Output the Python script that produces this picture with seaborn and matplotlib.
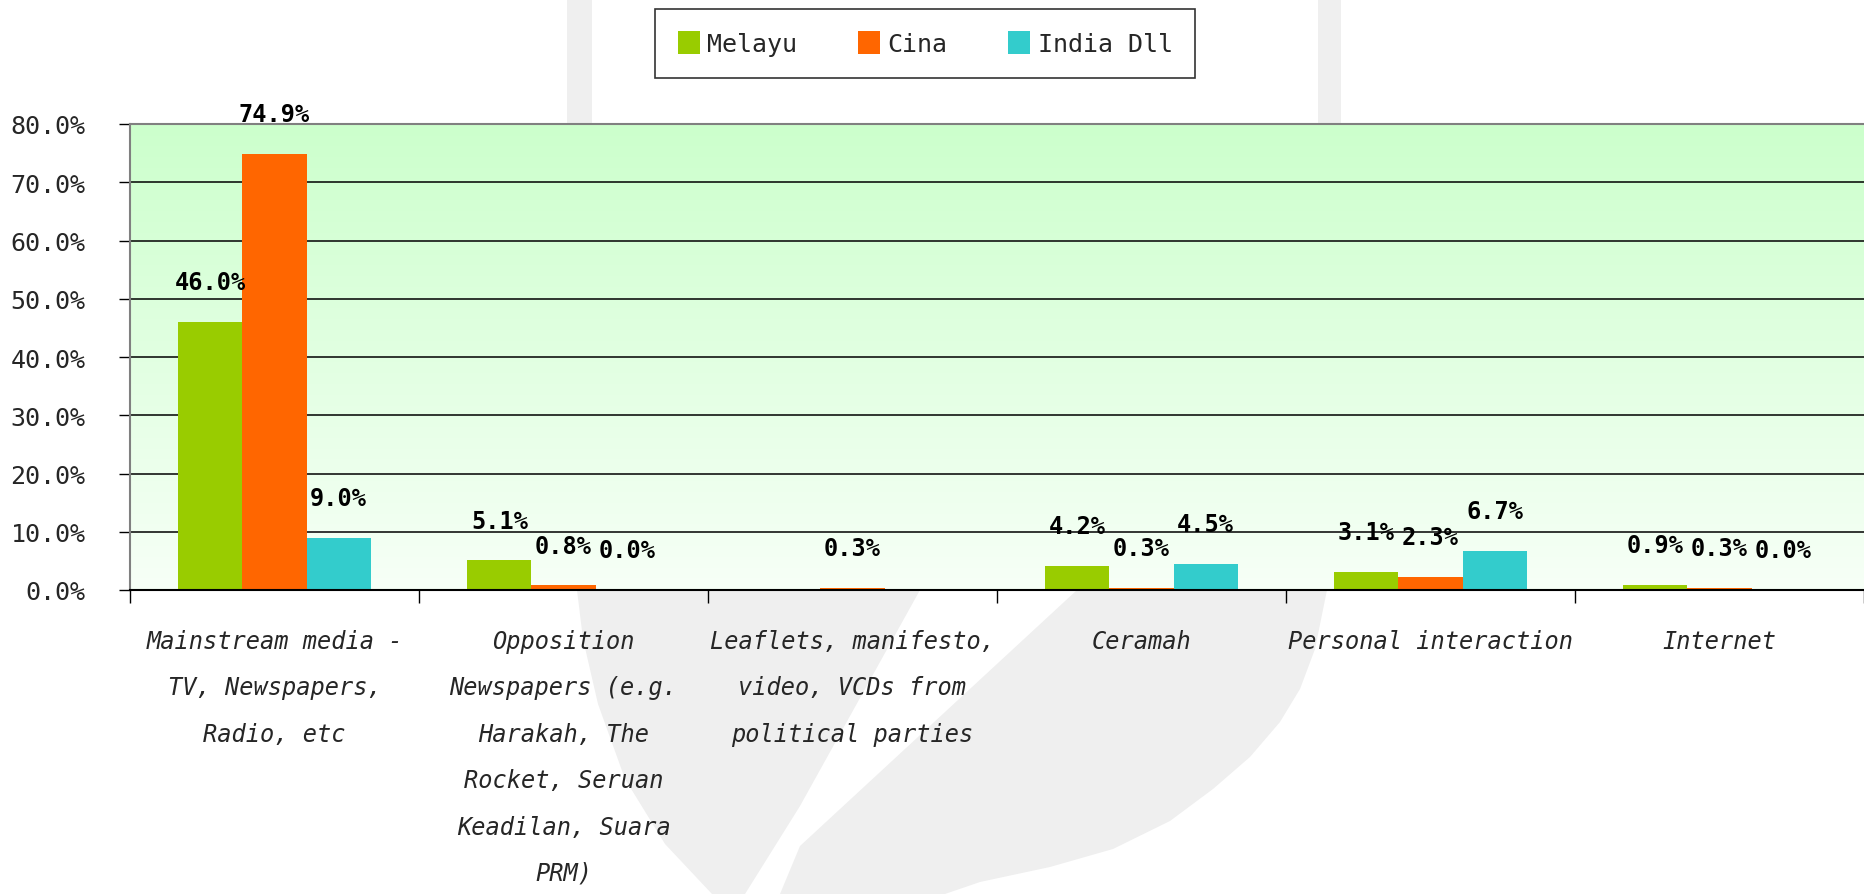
import numpy as np
import pandas as pd
import matplotlib
matplotlib.use("Agg")
import matplotlib.pyplot as plt
from matplotlib.patches import Patch, Polygon, Rectangle
from matplotlib.colors import LinearSegmentedColormap
from matplotlib.ticker import FixedLocator, FuncFormatter
import seaborn as sns

# ---- data -------------------------------------------------------------
categories = [
    "Mainstream media -\nTV, Newspapers,\nRadio, etc",
    "Opposition\nNewspapers (e.g.\nHarakah, The\nRocket, Seruan\nKeadilan, Suara\nPRM)",
    "Leaflets, manifesto,\nvideo, VCDs from\npolitical parties",
    "Ceramah",
    "Personal interaction",
    "Internet",
]
groups = ["Melayu", "Cina", "India Dll"]
melayu = [46.0, 5.1, np.nan, 4.2, 3.1, 0.9]
cina = [74.9, 0.8, 0.3, 0.3, 2.3, 0.3]
india_dll = [9.0, 0.0, np.nan, 4.5, 6.7, 0.0]
colors = ["#99cc00", "#ff6600", "#33cccc"]
y_ticks = [0, 10, 20, 30, 40, 50, 60, 70, 80]

rows = []
for g, vals in zip(groups, [melayu, cina, india_dll]):
    for c, v in zip(categories, vals):
        rows.append({"category": c, "group": g, "value": v})
df = pd.DataFrame(rows).dropna()

# ---- figure -----------------------------------------------------------
sns.set_style("white")
plt.rcParams["font.family"] = ["DejaVu Sans Mono", "DejaVu Sans"]

W, H = 1864, 895
fig = plt.figure(figsize=(W / 100, H / 100), dpi=100)

# faint grey watermark shapes behind everything
bg = fig.add_axes([0, 0, 1, 1], zorder=0)
bg.set_xlim(0, W)
bg.set_ylim(H, 0)
bg.axis("off")
wm = "#efefef"
bg.add_patch(Rectangle((567, 0), 25, 130, color=wm, lw=0))
bg.add_patch(Rectangle((1318, 0), 23, 130, color=wm, lw=0))
bg.add_patch(Polygon([(577, 591), (920, 591), (800, 807), (745, 895), (712, 895),
                      (665, 845), (625, 780), (598, 705), (583, 640)],
                     closed=True, color=wm, lw=0))
bg.add_patch(Polygon([(1077, 591), (800, 847), (780, 895), (945, 895), (980, 883),
                      (1050, 868), (1113, 850), (1170, 822), (1213, 790), (1250, 758),
                      (1280, 723), (1300, 690), (1315, 650), (1327, 591)],
                     closed=True, color=wm, lw=0))

ax = fig.add_axes([130 / W, 1 - 591 / H, 1 - 130 / W, (591 - 125) / H], zorder=2)
ax.patch.set_visible(False)

# vertical green gradient for the plotting area
grad_cmap = LinearSegmentedColormap.from_list("greens", ["#f7fff7", "#ccffcc"])
ax.imshow(np.linspace(0, 1, 256).reshape(-1, 1), cmap=grad_cmap, origin="lower",
          extent=[-0.5, len(categories) - 0.5, 0, 80], aspect="auto", zorder=0)

sns.barplot(data=df, x="category", y="value", hue="group", order=categories,
            hue_order=groups, palette=colors, saturation=1, width=0.665,
            errorbar=None, legend=False, ax=ax, zorder=2,
            linewidth=0, edgecolor="none")

ax.set_xlim(-0.5, len(categories) - 0.5)
ax.set_ylim(0, 80)
ax.set_xlabel("")
ax.set_ylabel("")

# value labels above every bar
for cont in ax.containers:
    ax.bar_label(cont, labels=[f"{b.get_height():.1f}%" for b in cont],
                 padding=20, fontsize=17, fontweight="bold", color="black",
                 family="DejaVu Sans Mono")

# grid and spines
ax.set_yticks(y_ticks)
ax.yaxis.set_major_formatter(FuncFormatter(lambda v, p: f"{v:.1f}%"))
ax.yaxis.grid(True, color="black", lw=1.1)
ax.set_axisbelow(True)
for side in ["top", "left"]:
    ax.spines[side].set_color("#808080")
    ax.spines[side].set_linewidth(1.5)
ax.spines["bottom"].set_color("black")
ax.spines["bottom"].set_linewidth(1.5)
ax.spines["right"].set_visible(False)

ax.tick_params(axis="y", which="major", length=8, width=1, color="black",
               pad=24, labelsize=18, direction="out", left=True)
ax.xaxis.set_minor_locator(FixedLocator(np.arange(-0.5, len(categories), 1.0)))
ax.tick_params(axis="x", which="minor", length=9, width=1, color="black",
               direction="out", bottom=True)
ax.tick_params(axis="x", which="major", length=0, pad=28)
for lbl in ax.get_xticklabels():
    lbl.set_fontsize(17)
    lbl.set_fontstyle("italic")
    lbl.set_linespacing(2.18)
    lbl.set_verticalalignment("top")

# legend
handles = [Patch(facecolor=c, edgecolor="none", label=g) for g, c in zip(groups, colors)]
leg = fig.legend(handles=handles, loc="center", bbox_to_anchor=(925 / W, 1 - 44.5 / H),
                 ncol=3, frameon=True, fancybox=False, edgecolor="black",
                 fontsize=18, handlelength=0.9, handleheight=1.0, handletextpad=0.3,
                 columnspacing=2.4, borderpad=0.9)
leg.get_frame().set_linewidth(1.2)
leg.get_frame().set_facecolor("white")
leg.set_zorder(5)

fig.savefig("out.png", dpi=100, facecolor="white")
